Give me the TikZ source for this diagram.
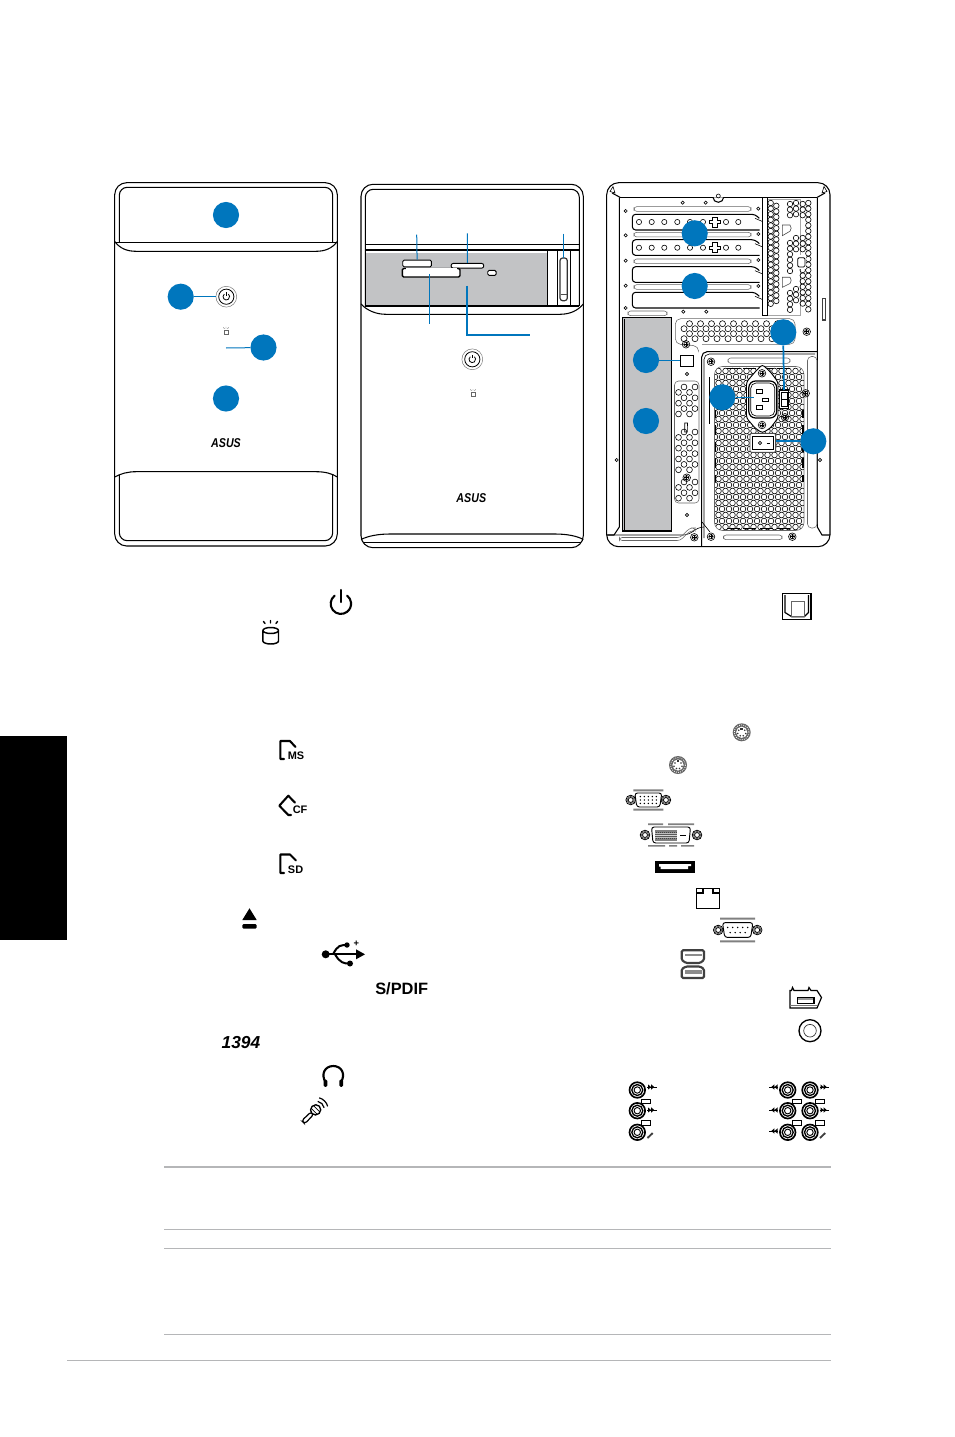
\documentclass[tikz,border=0pt]{standalone}
\usepackage{fontspec}
\setmainfont{Liberation Sans}
\usetikzlibrary{arrows.meta}
\definecolor{badgeblue}{HTML}{0076BD}
\definecolor{slotgray}{HTML}{C2C3C5}
\definecolor{rulegray}{HTML}{B5B6B8}
\tikzset{
  badge/.style={circle,fill=badgeblue,draw=none,minimum size=19.6pt,inner sep=0pt},
  lead/.style={draw=badgeblue,line width=0.75pt},
  leadheavy/.style={draw=badgeblue,line width=1.3pt},
  panel/.style={draw=black,line width=0.8pt},
  thin part/.style={draw=black,line width=0.45pt},
  soft part/.style={draw=black!60,line width=0.4pt},
  slot/.style={draw=black,line width=0.7pt,fill=white,rounded corners=1pt},
  rule/.style={draw=rulegray,line width=0.65pt},
  iconline/.style={draw=black,line width=1.55pt,line cap=round,line join=round},
  logo/.style={font=\bfseries\itshape\fontsize{8}{8}\selectfont,inner sep=0pt},
  cardtag/.style={font=\bfseries\fontsize{8.2}{8}\selectfont,inner sep=0pt},
  screw/.pic={
    \draw[thin part] (0,0) circle (3.8);
    \draw[thin part] (-2.4,0) -- (2.4,0) (0,-2.4) -- (0,2.4);
    \draw[thin part] (0,0) circle (2.2);
  },
  pinhole/.pic={\draw[thin part] (0,0) circle (1.6);},
  powerbtn/.pic={
    \draw[draw=black!55,line width=0.35pt] (0,0) circle (10.4);
    \draw[draw=black,line width=0.6pt] (0,0) circle (7.6);
    \draw[draw=black,line width=0.6pt] (-2,-2.6) arc (232:-52:3.3);
    \draw[draw=black,line width=0.6pt] (0,-4.4) -- (0,-1);
  },
  ledmark/.pic={
    \draw[draw=black!60,line width=0.4pt] (-2,-1) rectangle (2,3.6);
    \draw[draw=black!60,line width=0.35pt] (-2.6,-3.6) -- (-1.6,-2.3) (0,-4) -- (0,-2.4) (2.6,-3.6) -- (1.6,-2.3);
  },
  ps2/.pic={
    \fill[black!60] (0,0) circle (9);
    \draw[white,densely dotted,line width=0.6pt] (0,0) circle (7.4);
    \fill[white] (0,0) circle (5.6);
    \fill[black!80] (-3,-2) circle (0.9) (3,-2) circle (0.9) (-4,1.2) circle (0.9) (4,1.2) circle (0.9) (-1.5,3.5) circle (0.9) (1.5,3.5) circle (0.9);
    \fill[black!80] (-1.3,-4.6) rectangle (1.3,-2.6);
  },
  flangescrew/.pic={
    \draw[black,line width=0.6pt] (0,0) circle (4.8);
    \draw[black,line width=0.6pt] (0,0) circle (2.5);
    \draw[black!70,line width=0.5pt] (0,0) circle (3.6);
  },
  vga/.pic={
    \fill[black!50] (-15,-10.6) rectangle (15,-8.6) (-15,8.6) rectangle (15,10.6);
    \path (-17.6,0) pic {flangescrew} (17.6,0) pic {flangescrew};
    \draw[black,line width=0.7pt,fill=white,rounded corners=2pt] (-13.5,-7) -- (13.5,-7) -- (11.5,7) -- (-11.5,7) -- cycle;
    \foreach \r in {-3.4,0,3.4} \foreach \c in {-8,-4,0,4,8} \fill[black] (\c,\r) circle (0.8);
  },
  dvi/.pic={
    \fill[black!50] (-23,-11.6) rectangle (-8,-10) (-3,-11.6) rectangle (23,-10)
                    (-23,10) rectangle (-6,11.6) (-2,10) rectangle (6,11.6) (10,10) rectangle (23,11.6);
    \path (-26,0) pic {flangescrew} (26,0) pic {flangescrew};
    \draw[black,line width=0.7pt,fill=white,rounded corners=2pt] (-19.5,-8) -- (19.5,-8) -- (18,8) -- (-18,8) -- cycle;
    \foreach \r in {-4,-2.2,-0.4,1.4,3.2,5} \foreach \c in {-15,-13,...,5} \fill[black] (\c,\r) circle (0.8);
    \draw[black,line width=0.8pt] (9,0.5) -- (15,0.5);
  },
  serialport/.pic={
    \fill[black!50] (-17.5,-12.3) rectangle (17.5,-10.3) (-17.5,10.3) rectangle (17.5,12.3);
    \path (-19.5,0) pic {flangescrew} (19.5,0) pic {flangescrew};
    \draw[black,line width=0.7pt,fill=white,rounded corners=2pt] (-15.2,-7.4) -- (15.2,-7.4) -- (13,7.4) -- (-13,7.4) -- cycle;
    \foreach \c in {-10,-5,0,5,10} \fill[black] (\c,-2.6) circle (0.85);
    \foreach \c in {-7.5,-2.5,2.5,7.5} \fill[black] (\c,2.6) circle (0.85);
  },
  jack/.pic={
    \draw[black,line width=1.25pt] (0,0) circle (7.8);
    \draw[black,line width=1pt] (0,0) circle (5.5);
    \draw[black,line width=0.7pt] (0,0) circle (3.2);
  },
  jacktag/.pic={\draw[black,line width=0.6pt,fill=white] (0,0) rectangle (9,4.6);},
  sigright/.pic={
    \fill[black] (0,-2.6) -- (3,0) -- (0,2.6) -- cycle (3.2,-2.6) -- (6.2,0) -- (3.2,2.6) -- cycle;
    \draw[black,line width=0.6pt] (-0.6,0) -- (8.5,0);
  },
  sigleft/.pic={
    \fill[black] (0,-2.6) -- (-3,0) -- (0,2.6) -- cycle (-3.2,-2.6) -- (-6.2,0) -- (-3.2,2.6) -- cycle;
    \draw[black,line width=0.6pt] (0.6,0) -- (-8.5,0);
  },
  micmark/.pic={\draw[black!75,line width=1.4pt] (0,0) -- (5.2,-5);},
}
\newcommand{\honey}[7]{% x0 y0 cols rows dx dy radius
  \foreach \ro in {1,...,#4}{
    \foreach \co in {1,...,#3}{
      \pgfmathsetmacro{\hx}{#1+(\co-1)*#5+mod(\ro,2)*#5/2}
      \pgfmathsetmacro{\hy}{#2+(\ro-1)*#6}
      \draw[thin part] (\hx,\hy) circle (#7);
    }
  }
}
\begin{document}
\begin{tikzpicture}[x=0.75pt,y=-0.75pt]
\useasboundingbox (0,0) rectangle (954,1437);
\fill[white] (0,0) rectangle (954,1437);

% ---- chassis with the top and bottom covers ----
\draw[panel,rounded corners=9pt] (114.7,182.7) rectangle (337.3,546);
\draw[panel,rounded corners=6pt] (119.3,243) -- (119.3,187.3) -- (332.7,187.3) -- (332.7,243);
\draw[panel] (114.7,241.5) .. controls (120,248.5) and (127,251.3) .. (136,251.3) -- (316,251.3) .. controls (325,251.3) and (332,248.5) .. (337.3,241.5);
\draw[panel] (116,242.8) -- (336,242.8);
\draw[panel] (114.7,477) .. controls (121,473.5) and (128,471.7) .. (136,471.7) -- (316,471.7) .. controls (325,471.7) and (332,473.5) .. (337.3,477);
\draw[panel,rounded corners=6pt] (119.3,475) -- (119.3,540.7) -- (332.7,540.7) -- (332.7,475);
\path (226.3,296.7) pic {powerbtn};
\path (226,331) pic {ledmark};
\node[logo] (logoA) at (226,443) {\scalebox{1}[1.2]{ASUS}};
\coordinate (pwrA) at (215.7,296.7);
\coordinate (ledA) at (226,348);

% ---- chassis with the open drive bay ----
\fill[slotgray] (365.3,253.3) rectangle (547.3,306);
\draw[panel,rounded corners=9pt] (361,184.3) rectangle (583.3,547.7);
\draw[panel,rounded corners=6pt] (365.3,306) -- (365.3,189.3) -- (579.3,189.3) -- (579.3,306);
\draw[panel] (365.3,244.7) -- (579.3,244.7);
\draw[panel] (365.3,250) -- (579.3,250);
\draw[panel] (365.3,306) -- (579.3,306);
\draw[panel] (361,304) .. controls (367,310.5) and (376,314.3) .. (386,314.3) -- (560,314.3) .. controls (570,314.3) and (578,310.5) .. (583.3,304);
\draw[panel] (547.3,250) -- (547.3,306);
\draw[panel] (557.3,250) -- (557.3,306);
\draw[panel] (570.3,250) -- (570.3,306);
\draw[panel] (361,539.5) .. controls (368,536) and (378,534) .. (390,534) -- (555,534) .. controls (567,534) and (577,536) .. (583.3,539.5);
\draw[panel] (363.5,542.7) -- (581,542.7);
\node[slot,anchor=north west,minimum width=21.5pt,minimum height=5pt,inner sep=0pt] (msSlot) at (402.3,259.7) {};
\node[slot,anchor=north west,minimum width=24.4pt,minimum height=3.5pt,inner sep=0pt,rounded corners=1.5pt] (sdSlot) at (450.7,263) {};
\node[slot,anchor=north west,minimum width=6.3pt,minimum height=3.7pt,inner sep=0pt] (ledSlot) at (487.3,270) {};
\draw[black,line width=1.1pt,fill=white,rounded corners=1pt] (402.3,268.5) rectangle (460,277);
\fill[white] (406,267.6) rectangle (456.5,273.5);
\coordinate (cfSlot) at (429.7,274);
\draw[black!80,line width=0.9pt,fill=white,rounded corners=2pt] (560,258) rectangle (567.3,300.7);
\draw[black!70,line width=0.35pt] (560.6,294) -- (566.8,294);
\path (472.3,359.3) pic {powerbtn};
\path (473,393) pic {ledmark};
\node[logo] (logoB) at (471.3,497.7) {\scalebox{1}[1.2]{ASUS}};
\coordinate (msTop) at (416.7,234.7);
\coordinate (sdTop) at (467.3,233.3);
\coordinate (usbTop) at (563.3,233.7);
\coordinate (usbFoot) at (563.3,258);
\coordinate (cfFoot) at (429.7,324);
\coordinate (elbowStart) at (467.3,285.7);
\coordinate (elbow) at (467.3,334.7);
\coordinate (elbowEnd) at (530,334.7);
\draw[lead] (msTop) -- (msSlot.north);
\draw[lead] (sdTop) -- (sdSlot.north);
\draw[lead] (usbTop) -- (usbFoot);
\draw[lead] (cfSlot) -- (cfFoot);
\draw[leadheavy] (elbowStart) -- (elbow) -- (elbowEnd);

% ---- rear of the chassis: outer frame ----
\fill[slotgray] (622.3,317.7) rectangle (671.7,531);
\draw[panel,rounded corners=9pt] (606.7,182.7) rectangle (830,546.7);
\draw[panel] (620,197.3) -- (817.3,197.3);
\draw[panel] (619.3,197.3) -- (619.3,527) -- (614,535) -- (606.7,535);
\draw[panel] (817.3,197.3) -- (817.3,527) -- (822,535) -- (830,535);
\draw[panel] (612,193) -- (620,197.3) (825,193) -- (817.3,197.3);
\draw[thin part] (610,191.5) -- (613,186.5) -- (615,193) -- cycle (827,191.5) -- (824,186.5) -- (822,193) -- cycle;
\draw[panel,fill=white] (713,197.3) arc (180:360:5.3 and -5);
\draw[thin part] (718.3,196) circle (2);
\draw[panel] (622.3,317.7) rectangle (671.7,531);
\draw[thin part] (624,319) -- (624,530);

% card slots
\foreach \yt in {214.3,239.7,266.7,292.3}{
  \draw[panel,rounded corners=2.5pt] (759.5,\yt+15.7) -- (632.3,\yt+15.7) -- (632.3,\yt) -- (755,\yt) -- (759.3,\yt+4);
  \draw[thin part] (755,\yt+4) -- (762,\yt+7);
}
\foreach \yc in {222,247.7}{
  \foreach \xc in {639,651.7,664.3,677.3,690,703,726,738.3} \draw[thin part] (\xc,\yc) circle (2.6);
  \draw[thin part] (712.5,\yc-5) -- (717.5,\yc-5) -- (717.5,\yc-1.5) -- (720.5,\yc-1.5) -- (720.5,\yc+1.5) -- (717.5,\yc+1.5) -- (717.5,\yc+5) -- (712.5,\yc+5) -- (712.5,\yc+1.5) -- (709.5,\yc+1.5) -- (709.5,\yc-1.5) -- (712.5,\yc-1.5) -- cycle;
}
\foreach \yb in {206.7,232.3,259,284.7}
  \draw[soft part,rounded corners=2pt] (634,\yb) rectangle (751,\yb+4.6);
\draw[soft part,rounded corners=2pt] (628,311) rectangle (667,315.7);
\foreach \xs/\ys in {625.7/211,625.7/235.3,625.7/260.7,625.7/285.7,625.7/308,758.3/208.7,758.3/234,758.3/260,758.3/286,682.7/202.7,705.7/202.7,683.3/311.7,706.3/311.7}
  \path (\xs,\ys) pic {pinhole};

% perforated column beside the card slots
\draw[black,line width=0.7pt] (762.5,197.3) rectangle (767.5,315);
\draw[black!35,line width=0.4pt] (767.5,199.5) -- (800,199.5) -- (800,315) -- (767.5,315);
\foreach \xv/\ya/\yb in {770.7/203/305,776.3/205.8/305,790/204/218,790/243/276,790/293/310,796/203/218,796/238/253,796/289/305,802.7/204/219,802.7/238/250,802.7/270/304,808.3/203/312}{
  \pgfmathsetmacro{\yn}{\ya+5.6}
  \foreach \yy in {\ya,\yn,...,\yb} \draw[thin part] (\xv,\yy) circle (2.75);
}
\fill[white] (796,255.5) rectangle (806,269);
\draw[black,line width=0.6pt,fill=white,rounded corners=1pt] (797.7,257.7) rectangle (805,267);
\draw[black!70,line width=0.45pt,fill=white] (782.3,225) -- (790,225) arc (135:225:-4 and -4.4) -- (782.3,235.7) -- cycle;
\draw[black!70,line width=0.45pt,fill=white] (782.3,277.3) -- (790,277.3) arc (135:225:-4 and -4.4) -- (782.3,287.3) -- cycle;
\draw[black!75,line width=0.8pt] (822.3,298.3) rectangle (825.7,320);

% upper vent
\draw[soft part,rounded corners=4pt] (698.7,351) -- (698.7,346) -- (675.3,344) -- (675.3,318.7) -- (795,318.7) -- (795,344.3) -- (702,344.3);
\honey{684}{323.7}{9}{4}{11}{5}{3}

% side vent
\draw[soft part,rounded corners=3pt] (674.5,381) -- (674.5,503) -- (699,503) -- (699,381) -- cycle;
\honey{678.5}{387}{2}{6}{11}{5.4}{2.9}
\honey{678.5}{432}{2}{8}{11}{5.4}{2.9}
\honey{678.5}{482}{2}{4}{11}{5.4}{2.9}
\draw[thin part] (684.7,423) -- (687.5,423) -- (687.3,432) -- (684.7,432) -- cycle;

% power supply plate
\draw[panel,rounded corners=4pt] (701.7,546.7) -- (701.7,351.7) -- (817.3,351.7);
\draw[thin part,rounded corners=4pt] (704,538) -- (704,354) -- (815,354);
\draw[thin part] (702,522) -- (710,532);
\draw[soft part,rounded corners=2pt] (728,358) rectangle (790,363.3);
\draw[soft part,rounded corners=2pt] (723.5,535) rectangle (782,539.7);
\draw[thin part] (708.8,377) -- (708.8,424);
\draw[thin part,rounded corners=5pt] (608,535) -- (690,535) -- (697,527) -- (704,527);
\draw[soft part,rounded corners=2pt] (619.5,537.5) -- (680,537.5) -- (690,528) -- (695,528) -- (695,531) -- (690,531) -- (680,540.5) -- (619.5,540.5) -- cycle;
\draw[soft part,rounded corners=3pt] (807.5,356.5) rectangle (817,528);

% vent of the power supply
\begin{scope}
  \clip[rounded corners=6pt] (714.5,366.5) rectangle (804,530.5);
  \honey{715}{371}{13}{27}{7}{6}{2.85}
\end{scope}
\draw[soft part,rounded corners=6pt] (714.5,366.5) rectangle (804,530.5);
\foreach \ya/\yb in {410/418,425/435,442/452,458/468,475/482}
  \draw[black,line width=1.3pt] (715.5,\ya) -- (715.5,\yb) (802.8,\ya) -- (802.8,\yb);
\foreach \xa/\xb in {727/740,743/756,760/773,777/790}
  \draw[black,line width=1.1pt] (\xa,368.5) -- (\xb,368.5) (\xa,528.5) -- (\xb,528.5);

% mains inlet, switches
\draw[black,line width=0.7pt,fill=white,rounded corners=2pt] (762.3,364.5) -- (770.5,372) -- (778,382) -- (778,418) -- (770.5,428) -- (762.3,433) -- (755,428) -- (746.5,418) -- (746.5,382) -- (755,372) -- cycle;
\draw[black,line width=0.9pt,fill=white,rounded corners=5pt] (748.8,381) -- (776.7,381) -- (776.7,418) -- (748.8,418) -- cycle;
\draw[black,line width=0.5pt,rounded corners=4pt] (750.7,383) rectangle (774.8,416);
\draw[thin part] (756,389.3) rectangle (762.3,393.5) (762.3,398) rectangle (768.3,401.5) (756,405) rectangle (762.3,409);
\path (762,373.3) pic {screw} (762,425) pic {screw};
\draw[black,line width=0.8pt,fill=white] (779.3,390) rectangle (788.7,408.3);
\draw[thin part] (781,392) rectangle (787,406) (781,399) -- (787,399);
\draw[black!70,line width=0.7pt,fill=white,rounded corners=1pt] (750,433.3) rectangle (775.7,452.3);
\draw[black,line width=0.7pt,fill=white] (752.7,436.7) rectangle (773.3,449);
\draw[thin part] (760,443) circle (1.6);
\draw[black,line width=0.5pt] (766.5,443) -- (770,443);

% fixing screws and pin holes
\foreach \xs/\ys in {806.7/331.7,686/344.3,711/361.7,805.7/393.3,686.7/477.7,711/536.7,792.3/536.7,694.3/537.3,785/417.3}
  \path (\xs,\ys) pic {screw};
\foreach \xs/\ys in {687/374,687/515,616.7/460,820/460}
  \path (\xs,\ys) pic {pinhole};

% connection targets on the rear panel
\draw[black,line width=0.5pt,fill=white] (680,355) rectangle (693.3,366.7);
\coordinate (audioBlock) at (680,360);
\coordinate (voltTop) at (784,390);
\coordinate (inletPin) at (754,397.3);
\coordinate (switchEdge) at (775.7,441.3);

% ---- numbered badges and their leads ----
\node[badge] (b1) at (226,215) {};
\node[badge] (b2) at (180.7,296.7) {};
\node[badge] (b3) at (263.5,347.5) {};
\node[badge] (b4) at (226,398.5) {};
\node[badge] (b5) at (694.7,233.3) {};
\node[badge] (b6) at (694.7,286) {};
\node[badge] (b7) at (646,360) {};
\node[badge] (b8) at (646,421) {};
\node[badge] (b9) at (783.3,332.3) {};
\node[badge] (b10) at (722.3,397.3) {};
\node[badge] (b11) at (813.3,441.3) {};
\draw[lead] (b2) -- (pwrA);
\draw[lead] (ledA) -- (b3);
\draw[lead] (b7) -- (audioBlock);
\draw[leadheavy] (b9.south) -- (voltTop);
\draw[lead] (b10) -- (inletPin);
\draw[leadheavy] (switchEdge) -- (b11);

% ---- function icons, left column ----
\draw[iconline] (334.6,595.7) arc (-232:52:10.2 and -10.2);
\draw[iconline] (341.3,590) -- (341.3,602);

\draw[iconline,line width=1.1pt] (262.9,630.5) -- (262.9,641) arc (180:360:7.8 and -3) -- (278.5,630.5) arc (0:360:7.8 and 3);
\draw[iconline,line width=1.1pt] (263.5,621.5) -- (265,623.5) (270.5,620.5) -- (270.5,623) (277.5,621.5) -- (276,623.5);

\draw[iconline] (295.5,747) -- (290,741) -- (280.3,741) -- (280.3,759) -- (284,759);
\node[cardtag,anchor=west] (tagMS) at (287.5,755.7) {MS};

\draw[iconline] (295,802.7) -- (288.3,795.7) -- (279.3,805.7) -- (288.3,815) -- (291.2,815);
\node[cardtag,anchor=west] (tagCF) at (292.5,809.7) {CF};

\draw[iconline] (296,860.5) -- (290,854.5) -- (280.3,854.5) -- (280.3,873) -- (284,873);
\node[cardtag,anchor=west] (tagSD) at (287.7,870) {SD};

\fill[black] (249.5,908.3) -- (256.7,920) -- (242.3,920) -- cycle;
\fill[black,rounded corners=1pt] (242.3,924) rectangle (256.7,928.7);

% USB trident
\fill[black] (325.7,954.3) circle (4);
\draw[black,line width=1.5pt] (326,954.3) -- (358,954.3);
\fill[black] (365,954.3) -- (356,949.3) -- (356,959.3) -- cycle;
\draw[black,line width=1.5pt] (333,954.3) .. controls (338,945) and (340,945) .. (348,945);
\fill[black] (347,945) circle (2.7);
\draw[black,line width=1.5pt] (335,954.3) .. controls (340,963) and (344,963.5) .. (349,963.5);
\fill[black] (350,963.5) circle (3);
\node[font=\bfseries\fontsize{7}{7}\selectfont,inner sep=0pt] (usbPlus) at (356.3,943.7) {+};

\node[font=\bfseries\fontsize{12.3}{12}\selectfont,inner sep=0pt] (spdifWord) at (401.7,988.5) {S/PDIF};
\node[font=\bfseries\itshape\fontsize{13}{13}\selectfont,inner sep=0pt] (fwWord) at (241,1043) {1394};

\draw[black,line width=1.6pt] (325.5,1082) .. controls (320.5,1074) and (325,1066) .. (333.3,1066) .. controls (341.5,1066) and (346,1074) .. (341,1082);
\fill[black,rounded corners=1pt] (323.5,1079.5) rectangle (327.3,1086.8) (339.3,1079.5) rectangle (343.1,1086.8);

% microphone, handle towards the lower left
\begin{scope}[shift={(316,1109.5)},rotate=45]
  \draw[black,line width=0.9pt,rounded corners=2pt,fill=white] (-5,-1.8) -- (-18,-2.2) -- (-18,2.2) -- (-5,1.8) -- cycle;
  \draw[black,line width=1pt,fill=white] (-0.5,0) circle (5.2 and 5);
  \draw[black,line width=0.5pt] (-2.5,-4.5) -- (-2.5,4.5) (1,-4.5) -- (1,4.5);
  \draw[black,line width=0.9pt] (7,-4.5) arc (-33:33:8.3);
  \draw[black,line width=0.9pt] (10.5,-6) arc (-30:30:12);
\end{scope}

% ---- function icons, right column ----
\draw[black,line width=0.9pt] (782.7,593.3) rectangle (811,619.3);
\draw[black,line width=0.9pt] (785,595) -- (785,612.5) -- (791.7,616.7) -- (804.3,616.7) -- (808.5,612.5) -- (808.5,595);
\draw[black!60,line width=0.6pt] (791.7,601.7) rectangle (804.3,616.7);

\path (741.7,732.3) pic {ps2} (678,765) pic {ps2};
\path (648.3,800) pic {vga};
\path (671,835) pic {dvi};
\fill[black] (655,861) rectangle (695,872.7);
\fill[white] (659,864) -- (691,864) -- (691,866) -- (688,866) -- (688,869) -- (660.5,869) -- (660.5,866.5) -- (659,866.5) -- cycle;

\draw[black,line width=0.8pt] (696.7,888.3) rectangle (719.3,908.3);
\draw[black,line width=0.8pt] (696.7,893) -- (703,893) -- (703,888.3) (719.3,893) -- (713,893) -- (713,888.3);

\path (737.7,930) pic {serialport};

% stacked USB ports
\draw[black!75,line width=1.6pt,fill=white,rounded corners=1pt] (681.7,950.3) -- (704,950.3) -- (704,960) -- (700,963) -- (686,963) -- (681.7,960) -- cycle;
\draw[black!75,line width=1.6pt,fill=white,rounded corners=1pt] (686,966.5) -- (700,966.5) -- (704,969) -- (704,978) -- (681.7,978) -- (681.7,969) -- cycle;
\fill[black!45] (684.5,953.5) rectangle (701.5,956);
\fill[black!45] (684.5,970) rectangle (701.5,974);

% FireWire and coaxial S/PDIF ports
\draw[black,line width=0.9pt,fill=white] (790,990.5) -- (791.5,990.5) -- (792.5,987.5) -- (794,990.5) -- (808,990.5) -- (809,987.5) -- (811,990.5) -- (817,990.5) -- (821.5,997.5) -- (817,1008) -- (790,1008) -- cycle;
\draw[black!55,line width=0.7pt] (790,1005.8) -- (817,1005.8);
\draw[black,line width=0.9pt,fill=white] (797.3,997.3) rectangle (814,1003.5);
\fill[black!40] (798,997.8) rectangle (813.4,1000);

\draw[black,line width=1pt] (810,1030.7) circle (11);
\draw[black!80,line width=0.5pt] (810,1030.7) circle (6.3);

% analogue audio jack clusters
\foreach \yj in {1090,1110.7,1132.3} \path (637.3,\yj) pic {jack};
\foreach \xj in {787.7,810} \foreach \yj in {1090,1110.7,1132.3} \path (\xj,\yj) pic {jack};
\foreach \xt/\yt in {641.7/1099,641.7/1120.7,792.5/1099,792.5/1120.7,815/1099,815/1120.7} \path (\xt,\yt) pic {jacktag};
\foreach \xs/\ys in {648/1087,648/1110,820.5/1087,820.5/1110} \path (\xs,\ys) pic {sigright};
\foreach \xs/\ys in {777.5/1087,777.5/1110,777.5/1131} \path (\xs,\ys) pic {sigleft};
\path (647.5,1138) pic {micmark} (820,1138) pic {micmark};

% ---- index tab and page rules ----
\fill[black] (0,736) rectangle (67,940);
\draw[rule,line width=1pt] (164,1167) -- (831,1167);
\draw[rule] (164,1229.5) -- (831,1229.5);
\draw[rule] (164,1248.5) -- (831,1248.5);
\draw[rule] (164,1334.5) -- (831,1334.5);
\draw[rule] (67,1360) -- (831,1360);
\end{tikzpicture}
\end{document}
